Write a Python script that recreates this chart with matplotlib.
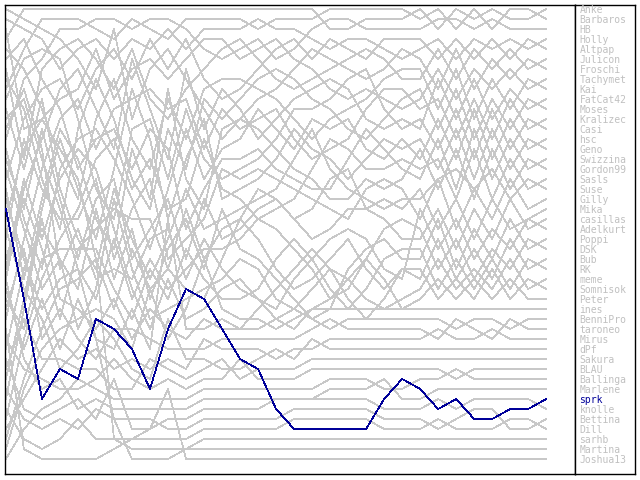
import matplotlib
matplotlib.use("Agg")
import matplotlib.pyplot as plt
import numpy as np

# final standing (label order, top to bottom)
players = ["Anke", "Barbaros", "HB", "Holly", "Altpap", "Julicon", "Froschi",
           "Tachymet", "Kai", "FatCat42", "Moses", "Kralizec", "Casi", "hsc",
           "Geno", "Swizzina", "Gordon99", "Sasls", "Suse", "Gilly", "Mika",
           "casillas", "Adelkurt", "Poppi", "DSK", "Bub", "RK", "meme",
           "Somnisok", "Peter", "ines", "BenniPro", "taroneo", "Mirus", "dPf",
           "Sakura", "BLAU", "Ballinga", "Marlene", "sprk", "knolle", "Bettina",
           "Dill", "sarhb", "Martina", "Joshua13"]

highlight = "sprk"

# rank of each player after every round (31 rounds)
ranks = {
    "Anke":     [4,1,1,1,1,1,1,1,1,1,1,1,1,  1,1,1,1,1,3,3,2,2,2,  1,3,1,2,1,2,2,1],
    "Barbaros": [9,5,2,2,2,3,4,2,3,4,2,2,2,  2,3,2,2,2,1,1,1,1,1,  2,1,3,1,3,1,1,2],
    "HB":       [14,8,6,3,3,2,2,3,2,2,3,5,6,  5,4,6,5,3,2,2,3,3,3,  3,2,2,3,2,3,3,3],
    "Holly":    [2,3,4,7,5,4,6,4,5,3,5,3,3,  3,2,3,3,4,5,4,4,5,6,  5,4,6,4,5,4,5,4],
    "Altpap":   [18,12,9,8,11,7,5,8,4,7,4,8,10,  9,7,5,4,6,4,5,6,4,4,  4,6,4,6,4,6,4,5],
    "Julicon":  [7,16,7,5,4,6,9,5,10,12,9,7,5,  4,6,8,9,8,7,6,5,6,8,  8,5,8,5,7,5,7,6],
    "Froschi":  [1,2,3,4,6,9,3,12,7,5,8,11,14,  12,10,9,7,5,6,7,8,7,5,  6,9,5,9,6,8,6,7],
    "Tachymet": [22,15,12,10,9,5,10,7,6,8,6,4,4,  6,5,4,6,7,9,10,9,10,11,  10,7,10,7,9,7,9,8],
    "Kai":      [5,7,11,16,20,12,8,14,17,10,14,9,8,  8,9,10,12,14,12,11,10,8,7,  7,11,7,12,8,11,8,9],
    "FatCat42": [28,19,14,9,7,11,15,6,11,16,7,13,9,  11,14,12,10,9,8,9,12,13,12,  13,8,12,8,12,9,11,10],
    "Moses":    [8,11,18,23,13,8,12,18,21,13,17,10,12,  10,8,7,8,10,11,13,14,12,10,  9,13,9,14,10,13,10,11],
    "Kralizec": [32,24,17,12,10,15,11,10,9,11,10,15,11,  13,12,11,14,16,15,14,11,9,9,  11,10,14,10,14,10,13,12],
    "Casi":     [10,6,5,6,12,19,22,13,12,18,11,16,18,  17,16,14,11,11,10,8,7,11,13,  12,15,11,16,11,15,12,13],
    "hsc":      [15,22,27,17,14,13,16,20,25,19,13,18,15,  14,11,13,15,12,13,12,15,16,14,  16,12,16,11,16,12,15,14],
    "Geno":     [38,30,21,14,19,24,17,9,14,22,16,12,20,  19,18,16,13,15,16,18,16,14,15,  14,17,13,18,13,17,14,15],
    "Swizzina": [6,4,8,11,17,14,13,17,13,15,23,19,16,  16,15,17,18,19,19,16,13,15,17,  18,14,19,13,18,14,17,16],
    "Gordon99": [19,28,20,13,16,22,25,15,20,9,18,21,13,  12,13,15,17,18,20,20,18,19,18,  15,19,15,20,15,19,16,17],
    "Sasls":    [42,34,28,24,21,16,14,19,16,21,20,14,19,  20,22,21,20,17,14,15,17,17,16,  17,16,20,15,20,16,19,18],
    "Suse":     [11,17,10,19,24,27,19,24,28,24,19,23,22,  21,20,19,16,13,17,19,20,21,20,  20,18,17,19,17,20,18,19],
    "Gilly":    [24,14,19,22,22,18,26,21,18,26,24,22,17,  18,17,18,19,20,21,22,19,18,19,  22,18,23,19,22,18,21,20],
    "Mika":     [16,21,13,20,26,20,18,26,23,20,26,20,24,  23,21,20,22,21,18,17,21,20,21,  19,23,20,24,20,23,22,21],
    "casillas": [30,33,26,25,25,23,21,22,22,27,21,26,23,  22,19,20,22,24,23,21,21,22,24,  24,21,25,21,24,20,23,22],
    "Adelkurt": [13,9,15,27,23,28,27,28,24,23,28,24,27,  29,30,31,28,26,24,23,24,27,28,  21,25,22,26,23,25,22,23],
    "Poppi":    [35,27,23,26,29,21,28,23,30,25,22,27,21,  25,26,28,30,32,31,27,25,24,26,  26,22,27,23,26,22,25,24],
    "DSK":      [20,26,31,28,27,30,24,30,26,29,27,25,25,  24,22,23,25,27,30,29,26,23,22,  23,27,24,28,25,27,24,25],
    "Bub":      [44,38,33,29,28,26,31,25,29,27,29,30,26,  22,24,27,29,28,26,24,27,29,27,  28,24,28,25,28,24,27,26],
    "RK":       [26,20,25,32,25,25,29,32,27,30,25,28,30,  30,29,26,24,26,29,31,29,26,25,  25,29,26,29,26,29,26,27],
    "meme":     [17,23,29,26,33,29,20,27,32,31,30,29,28,  26,27,30,31,29,27,28,30,31,30,  29,26,29,27,29,26,29,28],
    "Somnisok": [40,31,22,30,31,33,30,34,31,33,34,32,33,  33,31,29,27,25,27,30,32,30,27,  27,30,28,30,27,30,28,29],
    "Peter":    [27,18,24,18,15,17,23,29,33,28,32,31,29,  28,30,32,33,31,30,28,26,28,31,  30,28,30,28,30,28,30,30],
    "ines":     [45,39,35,33,32,31,32,35,29,34,31,26,31,  32,32,33,32,31,31,31,31,31,31,  31,31,31,31,31,31,31,31],
    "BenniPro": [29,35,30,35,30,34,35,31,35,22,33,33,32,  33,33,32,31,32,33,32,32,32,32,  32,32,33,32,32,33,32,32],
    "taroneo":  [31,25,34,31,34,36,33,33,34,35,35,35,34,  34,34,34,34,33,32,33,33,33,33,  33,34,32,33,34,32,33,33],
    "Mirus":    [43,40,37,34,36,35,37,36,37,36,37,34,35,  35,35,36,35,35,34,34,34,34,34,  34,33,34,34,33,34,34,34],
    "dPf":      [23,29,32,37,35,32,34,37,38,32,36,36,37,  37,36,35,36,34,35,35,35,35,35,  35,35,35,35,35,35,35,35],
    "Sakura":   [37,32,36,36,37,37,39,39,36,37,38,37,36,  38,37,37,37,36,36,36,36,36,36,  36,36,36,36,36,36,36,36],
    "BLAU":     [34,37,38,39,39,38,36,38,39,38,39,38,38,  36,38,38,38,37,37,37,37,37,37,  37,37,38,37,37,37,37,37],
    "Ballinga": [46,43,41,40,38,39,40,40,40,40,40,39,39,  39,39,39,39,39,38,38,38,39,39,  38,38,37,38,38,38,38,38],
    "Marlene":  [28,36,39,38,41,40,41,41,41,41,41,40,40,  40,40,40,40,40,39,39,39,38,40,  40,39,39,39,39,39,39,39],
    "sprk":     [21,30,40,37,38,32,33,35,39,33,29,30,33,  36,37,41,43,43,43,43,43,40,38,  39,41,40,42,42,41,41,40],
    "knolle":   [36,41,42,41,40,42,38,43,43,42,42,41,41,  41,41,40,40,40,40,40,40,41,41,  41,40,41,40,40,40,40,41],
    "Bettina":  [39,42,43,42,43,41,42,42,42,43,43,42,42,  42,42,42,41,41,41,41,41,42,42,  42,43,42,41,41,43,43,42],
    "Dill":     [33,45,46,46,46,46,45,44,44,44,44,43,43,  43,43,43,42,42,42,42,42,43,43,  43,42,43,43,43,42,42,43],
    "sarhb":    [41,44,45,44,42,44,44,45,45,45,45,44,44,  44,44,44,44,44,44,44,44,44,44,  44,44,44,44,44,44,44,44],
    "Martina":  [12,10,16,21,27,34,42,46,46,46,45,45,45,  45,45,45,45,45,45,45,45,45,45,  45,45,45,45,45,45,45,45],
    "Joshua13": [3,13,12,15,18,26,44,44,43,39,46,46,46,  46,46,46,46,46,46,46,46,46,46,  46,46,46,46,46,46,46,46],
}

gray = '#c8c8c8'
blue = '#000099'
label_gray = '#c0c0c0'

fig = plt.figure(figsize=(6.4, 4.8), dpi=100)
W, H = 640.0, 480.0

# main plot area
ax = fig.add_axes([5 / W, 6 / H, 570 / W, 469 / H])
for name in players:
    if name == highlight:
        continue
    r = ranks[name]
    ax.plot(np.arange(len(r)), r, color=gray, linewidth=0.5, antialiased=False)
r = ranks[highlight]
ax.plot(np.arange(len(r)), r, color=blue, linewidth=0.5, antialiased=False, zorder=5)

ax.set_xlim(-0.05, 31.6)
ax.set_ylim(47.5, 0.6)
ax.set_xticks([])
ax.set_yticks([])
for s in ax.spines.values():
    s.set_linewidth(1.0)
    s.set_color('black')

# name panel on the right
ax2 = fig.add_axes([575 / W, 6 / H, 60 / W, 469 / H])
ax2.set_xlim(0, 60)
ax2.set_ylim(47.5, 0.6)
ax2.set_xticks([])
ax2.set_yticks([])
for s in ax2.spines.values():
    s.set_linewidth(1.0)
    s.set_color('black')
for k, name in enumerate(players):
    c = blue if name == highlight else label_gray
    ax2.text(4.5, k + 1.1, name, color=c, fontsize=7, va='center', ha='left',
             family='DejaVu Sans Mono')

fig.savefig('out.png', dpi=100)
